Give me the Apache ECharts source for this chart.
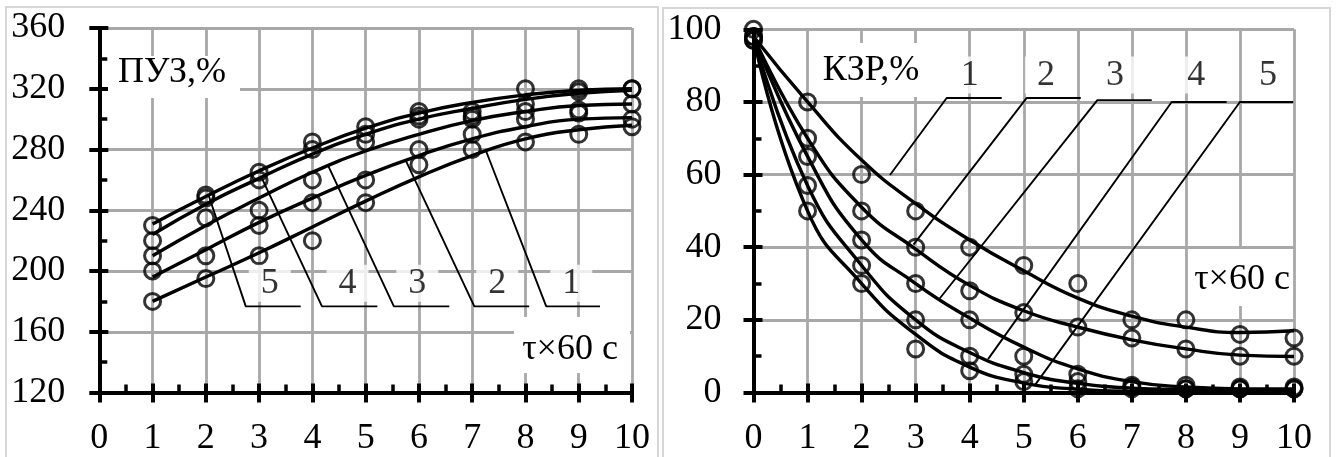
<!DOCTYPE html>
<html>
<head>
<meta charset="utf-8">
<script src="https://cdn.jsdelivr.net/npm/echarts@6/dist/echarts.min.js"></script>
<style>
  html, body { margin: 0; padding: 0; background: #fff; }
  #chart { width: 1336px; height: 457px; }
</style>
</head>
<body>
<div id="chart"></div>
<script>
// ---------- ПУЗ panel (left) ----------
const puzTau = [1, 2, 3, 4, 5, 6, 7, 8, 9, 10];
// measured points, curves 1..5
const puzMeas1 = [180, 195, 210, 220, 245, 270, 280, 285, 290, 295];
const puzMeas2 = [200, 210, 230, 245, 260, 280, 290, 300, 304, 300];
const puzMeas3 = [210, 235, 240, 260, 285, 300, 300, 305, 306, 310];
const puzMeas4 = [220, 248, 260, 280, 290, 302, 302, 310, 318, 320];
const puzMeas5 = [230, 250, 265, 285, 295, 305, 305, 320, 320, 320];
// fitted curves 1..5
const puzFit1 = [180, 196, 212, 229, 246, 262, 276, 287, 293, 296];
const puzFit2 = [196, 214, 232, 248, 263, 276, 287, 295, 300, 301];
const puzFit3 = [210, 230, 248, 265, 279, 290, 299, 305, 309, 310];
const puzFit4 = [224, 244, 261, 277, 290, 300, 307, 313, 317, 319];
const puzFit5 = [231, 249, 266, 281, 294, 304, 311, 316, 319, 320];
const puzYRange = [120, 360, 40];

// ---------- КЗР panel (right) ----------
const kzrTau = [0, 1, 2, 3, 4, 5, 6, 7, 8, 9, 10];
const kzrMeas1 = [100, 80, 60, 50, 40, 35, 30, 20, 20, 16, 15];
const kzrMeas2 = [98, 70, 50, 40, 28, 22, 18, 15, 12, 10, 10];
const kzrMeas3 = [98, 65, 42, 30, 20, 10, 5, 2, 2, 1.5, 1.5];
const kzrMeas4 = [97, 57, 35, 20, 10, 5, 3, 1.5, 1, 1, 1];
const kzrMeas5 = [97, 50, 30, 12, 6, 3, 1, 1, 1, 1, 1];
const kzrFit1 = [98, 80, 64, 52, 42, 33.5, 26, 21, 18, 16.5, 17];
const kzrFit2 = [98, 70, 51, 39.5, 29.5, 22.5, 18, 14.5, 12, 10.3, 9.9];
const kzrFit3 = [98, 65, 42, 30, 20.5, 12.5, 6.5, 3, 1.5, 1, 1];
const kzrFit4 = [98, 57, 35, 20, 11, 5.5, 2.5, 1.2, 0.8, 0.6, 0.6];
const kzrFit5 = [98, 50, 30, 16, 7, 2.6, 0.9, 0.3, 0.2, 0.2, 0.2];
const kzrYRange = [0, 100, 20];

const tauRange = [0, 10, 1];
const curveNames = ['1', '2', '3', '4', '5'];

// callout leaders: point on curve -> elbow -> end of shelf (axis units)
const puzLeaders = [
  [[7.26, 279], [8.39, 176.7], [9.40, 176.7]],
  [[5.75, 273], [7.04, 176.7], [8.07, 176.7]],
  [[4.30, 269], [5.53, 176.7], [6.57, 176.7]],
  [[3.06, 260.5], [4.18, 176.7], [5.22, 176.7]],
  [[2.05, 250], [2.75, 176.7], [3.78, 176.7]]
];
const puzTags = [[8.86, 191.9], [7.47, 191.9], [5.97, 191.9], [4.66, 191.9], [3.20, 191.9]];
const kzrLeaders = [
  [[2.525, 59.9], [3.574, 81.1], [4.592, 81.1]],
  [[2.96, 40.7], [5.055, 81.1], [6.054, 81.1]],
  [[3.43, 25.6], [6.362, 80.5], [7.368, 80.5]],
  [[4.34, 9.2], [7.737, 80.0], [8.754, 80.0]],
  [[5.20, 1.9], [8.999, 80.0], [9.985, 80.0]]
];
const kzrTags = [[4.0, 87.4], [5.41, 87.4], [6.69, 87.4], [8.19, 87.4], [9.52, 87.4]];

const FONT = '"Liberation Serif", "Times New Roman", serif';
const FS = 36;
const GRID_GRAY = '#a8a8a8';

function zip(xs, ys) { return xs.map((x, i) => [x, ys[i]]); }

// labelled axis: outward ticks + grid lines
function mainAxis(gridIndex, pos, range, margin) {
  return {
    type: 'value', gridIndex, position: pos, z: 1,
    min: range[0], max: range[1], interval: range[2],
    axisLine: { show: true, onZero: false, lineStyle: { color: '#000', width: 4 } },
    axisTick: { show: true, inside: false, length: 10, lineStyle: { color: '#000', width: 4 } },
    minorTick: { show: false },
    axisLabel: { show: true, margin, color: '#000', fontFamily: FONT, fontSize: FS },
    splitLine: { show: true, lineStyle: { color: GRID_GRAY, width: 2.8 } }
  };
}
// overlay axis: inward major + minor ticks, drawn above the grid lines
function innerAxis(gridIndex, pos, range) {
  return {
    type: 'value', gridIndex, position: pos, z: 3,
    min: range[0], max: range[1], interval: range[2],
    axisLine: { show: true, onZero: false, lineStyle: { color: '#000', width: 4 } },
    axisTick: { show: true, inside: true, length: 9, lineStyle: { color: '#000', width: 4 } },
    minorTick: { show: true, splitNumber: 2, length: 8, lineStyle: { color: '#000', width: 3.5 } },
    axisLabel: { show: false },
    splitLine: { show: false }
  };
}

function panelSeries(xAxisIndex, yAxisIndex, tau, fits, meas, leaders, tags) {
  const out = [];
  fits.forEach((f, i) => out.push({
    type: 'line', name: 'fit' + curveNames[i], xAxisIndex, yAxisIndex,
    data: zip(tau, f), smooth: 0.5, symbol: 'none',
    lineStyle: { color: '#000', width: 3.4 }, z: 3, silent: true
  }));
  meas.forEach((m, i) => out.push({
    type: 'scatter', name: 'pts' + curveNames[i], xAxisIndex, yAxisIndex,
    data: zip(tau, m), symbol: 'circle', symbolSize: 16, clip: false,
    itemStyle: { color: 'rgba(0,0,0,0)', borderColor: '#000', borderWidth: 3 },
    z: 4, silent: true
  }));
  leaders.forEach((seg, i) => out.push({
    type: 'line', name: 'lead' + curveNames[i], xAxisIndex, yAxisIndex,
    data: seg, symbol: 'none', smooth: false,
    lineStyle: { color: '#000', width: 1.9 }, z: 3, silent: true
  }));
  out.push({
    type: 'scatter', name: 'tags', xAxisIndex, yAxisIndex,
    data: tags.map((t, i) => [t[0], t[1], curveNames[i]]),
    symbolSize: 0, silent: true, z: 6,
    label: {
      show: true, position: 'inside', formatter: p => p.data[2],
      color: '#000', fontFamily: FONT, fontSize: FS, lineHeight: 36,
      backgroundColor: '#fff', padding: [1, 12, 0, 12]
    }
  });
  return out;
}

const chart = echarts.init(document.getElementById('chart'), null, { renderer: 'canvas' });

const caption = (t, x, y) => ({
  type: 'text', x, y, z: 20,
  style: { text: t, fill: '#000', font: FS + 'px ' + FONT, align: 'center', verticalAlign: 'middle' }
});
const whiteBox = (x, y, w, h) => ({
  type: 'rect', z: 19, shape: { x, y, width: w, height: h }, style: { fill: '#fff' }
});

chart.setOption({
  animation: false,
  backgroundColor: '#fff',
  grid: [
    { left: 99.3, top: 28, width: 532.7, height: 364.5 },
    { left: 753.5, top: 29.3, width: 540.5, height: 363.2 }
  ],
  xAxis: [
    mainAxis(0, 'bottom', tauRange, 28), innerAxis(0, 'bottom', tauRange),
    mainAxis(1, 'bottom', tauRange, 28), innerAxis(1, 'bottom', tauRange)
  ],
  yAxis: [
    mainAxis(0, 'left', puzYRange, 34), innerAxis(0, 'left', puzYRange),
    mainAxis(1, 'left', kzrYRange, 32), innerAxis(1, 'left', kzrYRange)
  ],
  series: [].concat(
    panelSeries(0, 0, puzTau,
      [puzFit1, puzFit2, puzFit3, puzFit4, puzFit5],
      [puzMeas1, puzMeas2, puzMeas3, puzMeas4, puzMeas5],
      puzLeaders, puzTags),
    panelSeries(2, 2, kzrTau,
      [kzrFit1, kzrFit2, kzrFit3, kzrFit4, kzrFit5],
      [kzrMeas1, kzrMeas2, kzrMeas3, kzrMeas4, kzrMeas5],
      kzrLeaders, kzrTags)
  ),
  graphic: [
    // panel frames
    { type: 'rect', z: 0, shape: { x: 6, y: 7, width: 652, height: 470 },
      style: { fill: 'none', stroke: '#d6d6d6', lineWidth: 2 } },
    { type: 'rect', z: 0, shape: { x: 663, y: 8, width: 667, height: 470 },
      style: { fill: 'none', stroke: '#d6d6d6', lineWidth: 2 } },
    // axis captions
    whiteBox(108, 56, 132, 42), caption('ПУЗ,%', 172, 73),
    whiteBox(514, 317, 116, 56), caption('τ×60 с', 570, 350),
    whiteBox(815, 43, 110, 54), caption('КЗР,%', 871, 71),
    whiteBox(1188, 249, 104, 57), caption('τ×60 с', 1242, 280)
  ]
});
</script>
</body>
</html>
